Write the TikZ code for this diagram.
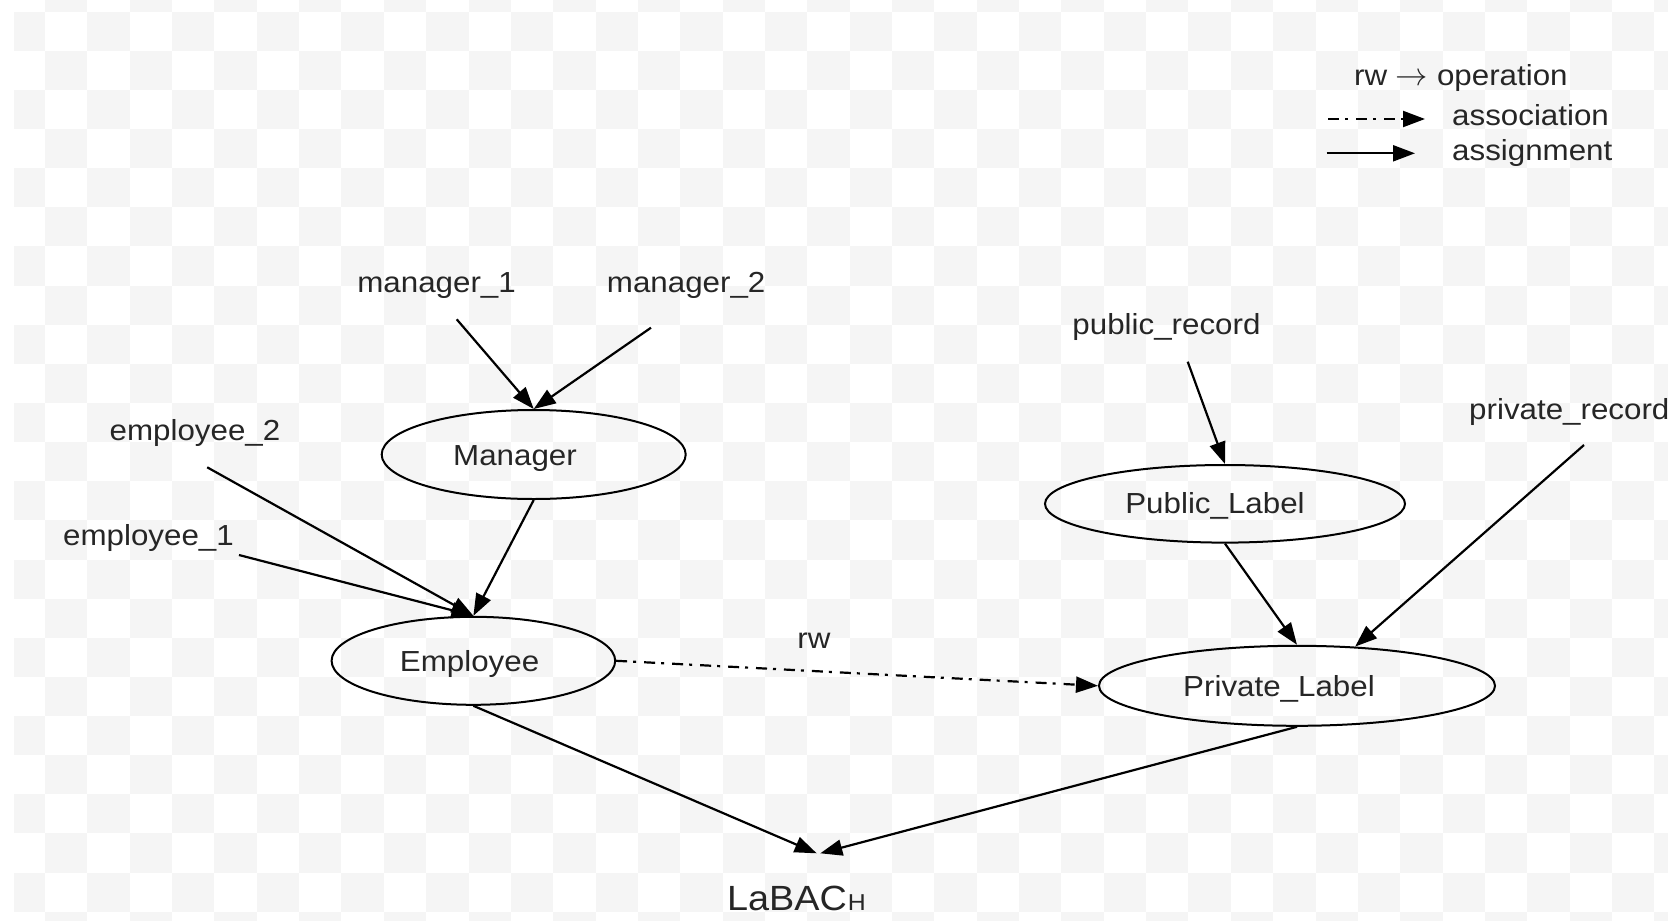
\documentclass[tikz,border=0pt]{standalone}
\usepackage{fontspec}
\setmainfont{Liberation Sans}[FakeStretch=1.08]
\usetikzlibrary{arrows.meta,shapes.geometric}
\definecolor{checkgray}{RGB}{245,245,245}
\definecolor{ink}{RGB}{38,38,38}
\begin{document}
\begin{tikzpicture}[x=1pt,y=-1pt,
  lbl/.style={inner sep=0pt, anchor=base, text=ink, font=\fontsize{29}{34}\selectfont},
  state/.style={ellipse, draw, line width=2pt, inner sep=0pt},
  tipshape/.style={-{Triangle[length=22pt,width=16pt]}},
  assign/.style={line width=2.2pt, tipshape},
  assoc/.style={line width=2.2pt, dash pattern=on 11pt off 6pt on 3pt off 8pt, tipshape},
]
\useasboundingbox (0,0) rectangle (1668,921);

% checkered backdrop
\fill[white] (0,0) rectangle (1668,921);
\begin{scope}
  \clip (14,0) rectangle (1668,921);
  \foreach \r in {-1,...,23} {
    \foreach \c in {-1,...,38} {
      \pgfmathtruncatemacro\cellparity{\r+\c+100}
      \ifodd\cellparity
        \fill[checkgray] ({45+\c*42.35},{11.7+\r*39.13}) rectangle ++(42.35,39.13);
      \fi
    }
  }
\end{scope}

% legend
\node[lbl, anchor=base west] (legop) at (1354,85) {rw \scalebox{1.3}{$\rightarrow$} operation};
\coordinate (assocA) at (1328.3,119);
\coordinate (assocB) at (1425,119);
\coordinate (assignA) at (1326.7,153.3);
\coordinate (assignB) at (1415,153.3);
\draw[assoc] (assocA) -- (assocB);
\draw[assign] (assignA) -- (assignB);
\node[lbl, anchor=base west] (legassoc) at (1452,125) {association};
\node[lbl, anchor=base west] (legassign) at (1452,160) {assignment};

% labelled states
\node[state, minimum width=304pt, minimum height=89pt] (manager) at (533.7,454.5) {};
\node[lbl] (managertxt) at (515,465) {Manager};
\node[state, minimum width=283.6pt, minimum height=88pt] (employee) at (473.4,660.8) {};
\node[lbl] (employeetxt) at (469.6,671.7) {Employee};
\node[state, minimum width=360pt, minimum height=77.6pt] (public) at (1225,503.8) {};
\node[lbl] (publictxt) at (1215,513.3) {Public\_Label};
\node[state, minimum width=396pt, minimum height=80pt] (private) at (1297,685.8) {};
\node[lbl] (privatetxt) at (1279,696) {Private\_Label};

% users and objects
\node[lbl] (m1) at (436.6,292.7) {manager\_1};
\node[lbl] (m2) at (686.2,292.7) {manager\_2};
\node[lbl] (e2) at (195,440.7) {employee\_2};
\node[lbl] (e1) at (148.5,545) {employee\_1};
\node[lbl] (pubrec) at (1166.5,334.3) {public\_record};
\node[lbl, anchor=base west] (privrec) at (1469,419.3) {private\_record};
\node[lbl] (rw) at (814,648.3) {rw};
\node[lbl, anchor=base west, font=\fontsize{35}{40}\selectfont] (labach) at (727,910.7)
  {LaBAC\kern1pt{\fontsize{23}{26}\selectfont H}};

% tails of the assignment arrows, just below their labels
\coordinate (m1tail) at (456.7,319.3);
\coordinate (m2tail) at (651,327.7);
\coordinate (e2tail) at (207.2,467.3);
\coordinate (e1tail) at (239,555);
\coordinate (pubtail) at (1187.7,361.7);
\coordinate (privtail) at (1584,445);
\coordinate (labL) at (816.7,853.3);
\coordinate (labR) at (820.3,853.3);

% assignments
\draw[assign] (m1tail) -- (manager.north);
\draw[assign] (m2tail) -- (manager.north);
\draw[assign] (manager.south) -- (employee.north);
\draw[assign] (e2tail) -- (employee.north);
\draw[assign] (e1tail) -- (employee.north);
\draw[assign] (pubtail) -- (public.north);
\draw[assign] (public.south) -- (private.north);
\draw[assign] (privtail) -- (private.34);
\draw[assign] (employee.south) -- (labL);
\draw[assign] (private.south) -- (labR);

% association
\draw[assoc] (employee.east) -- (private.west);
\end{tikzpicture}
\end{document}
